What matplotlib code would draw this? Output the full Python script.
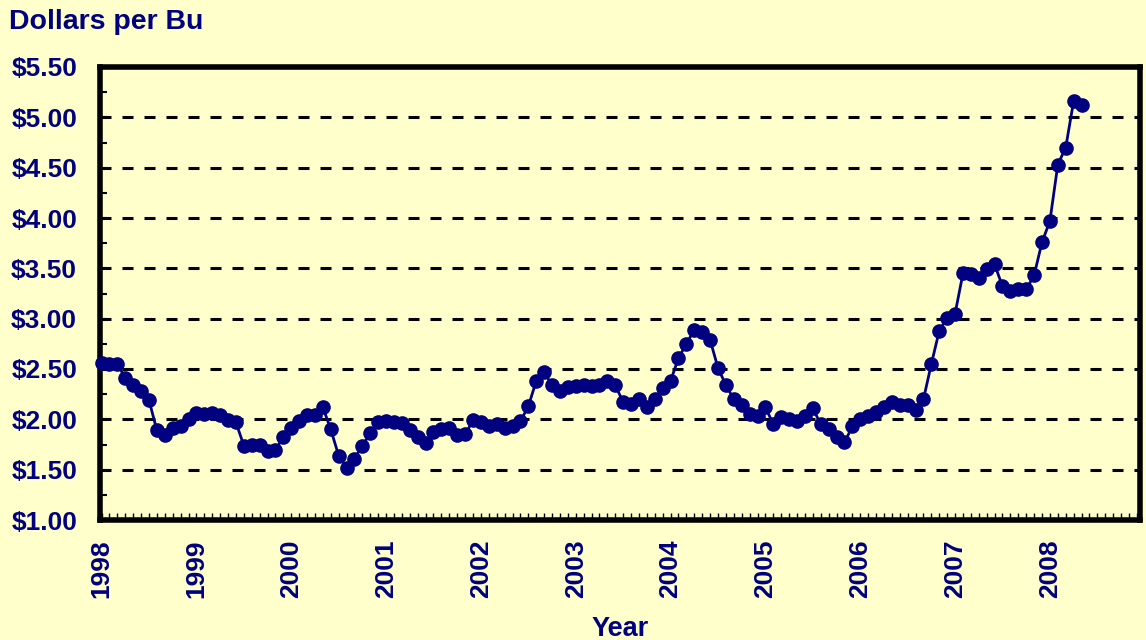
import matplotlib
matplotlib.use("Agg")
import matplotlib.pyplot as plt
import numpy as np
from matplotlib.ticker import MultipleLocator, FixedLocator

plt.rcParams['font.family'] = ['Liberation Sans', 'DejaVu Sans']

# Monthly prices, Jan 1998 .. May 2008 (dollars per bushel)
p1998 = [2.56, 2.55, 2.55, 2.41, 2.34, 2.28, 2.19, 1.89, 1.84, 1.91, 1.93, 2.00]
p1999 = [2.06, 2.05, 2.06, 2.04, 1.99, 1.97, 1.74, 1.75, 1.75, 1.69, 1.70, 1.82]
p2000 = [1.91, 1.98, 2.04, 2.04, 2.12, 1.90, 1.64, 1.52, 1.61, 1.74, 1.86, 1.97]
p2001 = [1.98, 1.97, 1.96, 1.89, 1.82, 1.76, 1.87, 1.90, 1.91, 1.84, 1.85, 1.99]
p2002 = [1.97, 1.93, 1.95, 1.91, 1.93, 1.98, 2.13, 2.38, 2.47, 2.34, 2.28, 2.32]
p2003 = [2.33, 2.34, 2.33, 2.34, 2.38, 2.34, 2.17, 2.15, 2.20, 2.12, 2.20, 2.31]
p2004 = [2.38, 2.61, 2.75, 2.89, 2.87, 2.79, 2.51, 2.34, 2.20, 2.14, 2.05, 2.03]
p2005 = [2.12, 1.95, 2.02, 2.00, 1.98, 2.03, 2.11, 1.95, 1.90, 1.82, 1.77, 1.93]
p2006 = [2.00, 2.03, 2.07, 2.12, 2.17, 2.14, 2.14, 2.09, 2.20, 2.55, 2.88, 3.01]
p2007 = [3.05, 3.45, 3.44, 3.40, 3.49, 3.54, 3.32, 3.27, 3.29, 3.29, 3.43, 3.76]
p2008 = [3.97, 4.53, 4.70, 5.16, 5.12]

years = ['1998', '1999', '2000', '2001', '2002', '2003', '2004', '2005', '2006', '2007', '2008']
y_ticks = [1.00, 1.50, 2.00, 2.50, 3.00, 3.50, 4.00, 4.50, 5.00, 5.50]

prices = p1998 + p1999 + p2000 + p2001 + p2002 + p2003 + p2004 + p2005 + p2006 + p2007 + p2008
months = np.arange(len(prices))

navy = '#000080'
bg = '#FFFFCC'

fig = plt.figure(figsize=(11.46, 6.40), dpi=100, facecolor=bg)
ax = fig.add_axes([100/1146, 120/640, 1040/1146, 453/640], facecolor=bg)

ax.set_xlim(-0.2, 131.4)
ax.set_ylim(1.0, 5.5)

for yv in y_ticks[1:-1]:
    ax.axhline(yv, color='black', lw=2.2, ls=(0, (3.6, 3.6)), zorder=1)

ax.plot(months, prices, color=navy, lw=2.0, marker='o', ms=9.5,
        mfc=navy, mec=navy, zorder=3, clip_on=False)

for s in ax.spines.values():
    s.set_linewidth(4)
    s.set_color('black')

ax.xaxis.set_major_locator(FixedLocator([12 * i for i in range(len(years))]))
ax.set_xticklabels(years, rotation=90, fontsize=19, fontweight='bold', color=navy)
ax.xaxis.set_minor_locator(MultipleLocator(1))
ax.tick_params(axis='x', which='both', direction='in', length=5, width=1, color='black', pad=14)

ax.yaxis.set_major_locator(FixedLocator(y_ticks))
ax.set_yticklabels(['${:.2f}'.format(v) for v in y_ticks], fontsize=19, fontweight='bold', color=navy)
ax.yaxis.set_minor_locator(MultipleLocator(0.25))
ax.tick_params(axis='y', which='both', direction='in', length=5, width=1.5, color='black', pad=16.5)

fig.text(9/1146, 1 - 22/640, 'Dollars per Bu', fontsize=20.5, fontweight='bold', color=navy,
         ha='left', va='center')
fig.text(620/1146, 1 - 629/640, 'Year', fontsize=19.5, fontweight='bold', color=navy,
         ha='center', va='center')

fig.savefig('out.png', dpi=100, facecolor=bg)
